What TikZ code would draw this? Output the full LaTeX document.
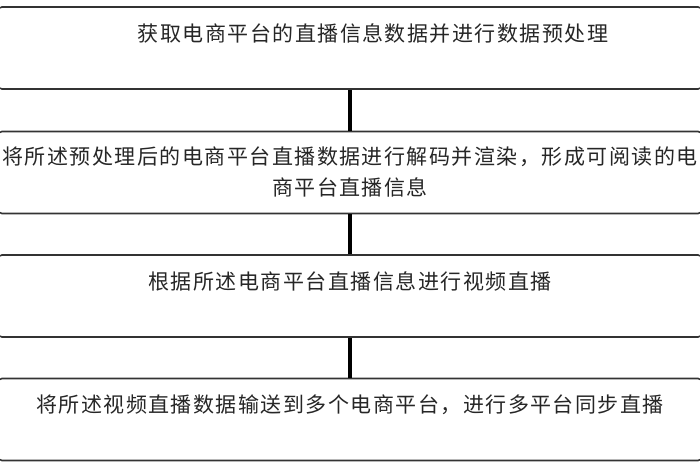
\documentclass[tikz,border=0pt]{standalone}
\usepackage{fontspec}
\newfontfamily\cjk[LetterSpace=7]{Noto Sans CJK SC}
\begin{document}
\begin{tikzpicture}[x=1pt, y=-1pt,
  every node/.style={font=\cjk\fontsize{21}{31}\selectfont, text=black!85},
  procbox/.style={draw=black!80, line width=1.6pt, rounded corners=5pt,
    minimum width=706pt, minimum height=82pt, inner sep=0pt, align=center}]
  \clip (0,0) rectangle (700,470);
  \node[procbox] (s1) at (350,48) {\hspace*{46pt}获取电商平台的直播信息数据并进行数据预处理\\~};
  \node[procbox] (s2) at (350,172.5) {将所述预处理后的电商平台直播数据进行解码并渲染，形成可阅读的电\\商平台直播信息};
  \node[procbox] (s3) at (350,296) {根据所述电商平台直播信息进行视频直播\\~};
  \node[procbox] (s4) at (350,419.5) {将所述视频直播数据输送到多个电商平台，进行多平台同步直播\\~};
  \draw[line width=3.5pt] (s1.south) -- (s2.north);
  \draw[line width=3.5pt] (s2.south) -- (s3.north);
  \draw[line width=3.5pt] (s3.south) -- (s4.north);
\end{tikzpicture}
\end{document}
